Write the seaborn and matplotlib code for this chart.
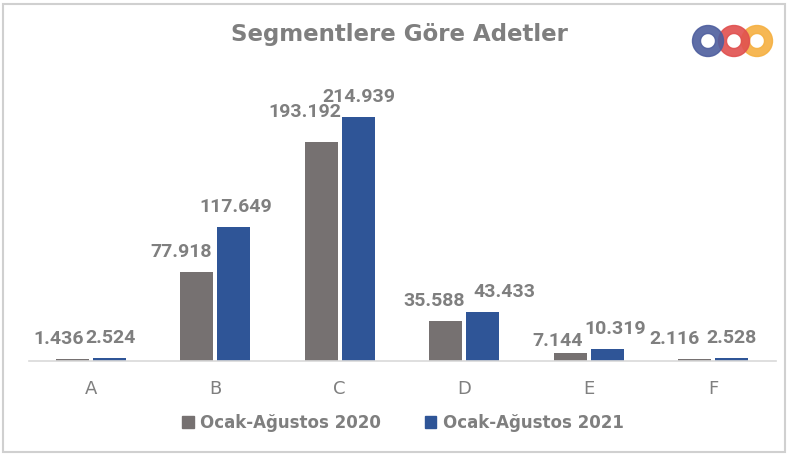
import matplotlib
matplotlib.use("Agg")
import matplotlib.pyplot as plt
from matplotlib.patches import Rectangle, Wedge
import seaborn as sns
import pandas as pd

categories = ["A", "B", "C", "D", "E", "F"]
series_names = ["Ocak-Ağustos 2020", "Ocak-Ağustos 2021"]
values_2020 = [1436, 77918, 193192, 35588, 7144, 2116]
values_2021 = [2524, 117649, 214939, 43433, 10319, 2528]
colors = ["#767171", "#2F5597"]
text_gray = "#7F7F7F"

# label nudges (pixels) so neighbouring labels don't collide, like the original
dx_2020 = [-13, -15, -16, -11, -12, -20]
dx_2021 = [1, 2, 0, 22, 8, 0]
dy_2020 = [0, 0, 10, 0, -8, 0]
dy_2021 = [0, 0, 0, 0, 0, 0]

df = pd.DataFrame({
    "Segment": categories * 2,
    "Adet": values_2020 + values_2021,
    "Dönem": [series_names[0]] * 6 + [series_names[1]] * 6,
})

sns.set_style("white")
plt.rcParams['font.family'] = ['DejaVu Sans']

fig = plt.figure(figsize=(7.9, 4.57), dpi=100)
ax = fig.add_axes([28.5 / 790, 96 / 457, 747 / 790, 284 / 457])

sns.barplot(data=df, x="Segment", y="Adet", hue="Dönem", palette=colors,
            width=0.6, gap=0.117, ax=ax, saturation=1, legend=False, linewidth=0)

ax.set_ylim(0, 250000)
ax.set_xlim(-0.5, 5.5)
ax.set_yticks([])
ax.set_xlabel("")
ax.set_ylabel("")
for s in ["top", "right", "left"]:
    ax.spines[s].set_visible(False)
ax.spines["bottom"].set_color("#D9D9D9")
ax.spines["bottom"].set_linewidth(1.2)
ax.tick_params(axis="x", length=0, pad=14, labelsize=13, labelcolor=text_gray)

def fmt(v):
    return f"{v:,}".replace(",", ".")

for cont, vals, dxs, dys in zip(ax.containers, [values_2020, values_2021],
                                [dx_2020, dx_2021], [dy_2020, dy_2021]):
    for bar, v, dx, dy in zip(cont, vals, dxs, dys):
        ax.annotate(fmt(v), (bar.get_x() + bar.get_width() / 2, bar.get_height()),
                    xytext=(dx, 11 + dy), textcoords="offset pixels",
                    ha="center", va="bottom", fontsize=14, fontweight="bold",
                    family="Roboto", color=text_gray)

fig.text(0.506, 1 - 34 / 457, "Segmentlere Göre Adetler", ha="center", va="center",
         fontsize=16.5, fontweight="bold", color=text_gray)

handles = [Rectangle((0, 0), 1, 1, color=c) for c in colors]
fig.legend(handles, series_names, loc="center", bbox_to_anchor=(0.51, 1 - 423 / 457),
           ncol=2, frameon=False, handlelength=0.7, handleheight=0.7,
           handletextpad=0.4, columnspacing=2.6,
           prop={"size": 12, "weight": "bold"}, labelcolor=text_gray)

# logo
lax = fig.add_axes([690 / 790, 1 - 61 / 457, 86 / 790, 40 / 457])
lax.set_xlim(0, 86)
lax.set_ylim(0, 40)
lax.set_aspect("equal")
lax.axis("off")
for cx, c in [(67, "#F5B041"), (44, "#E0504F"), (18, "#4E5E9E")]:
    lax.add_patch(Wedge((cx, 20), 15.5, 0, 360, width=8, color=c, alpha=0.9))

fig.patches.append(Rectangle((0.004, 0.01), 0.99, 0.982, transform=fig.transFigure,
                             fill=False, edgecolor="#D0D0D0", lw=1.5))

fig.savefig("out.png", dpi=100, facecolor="white")
